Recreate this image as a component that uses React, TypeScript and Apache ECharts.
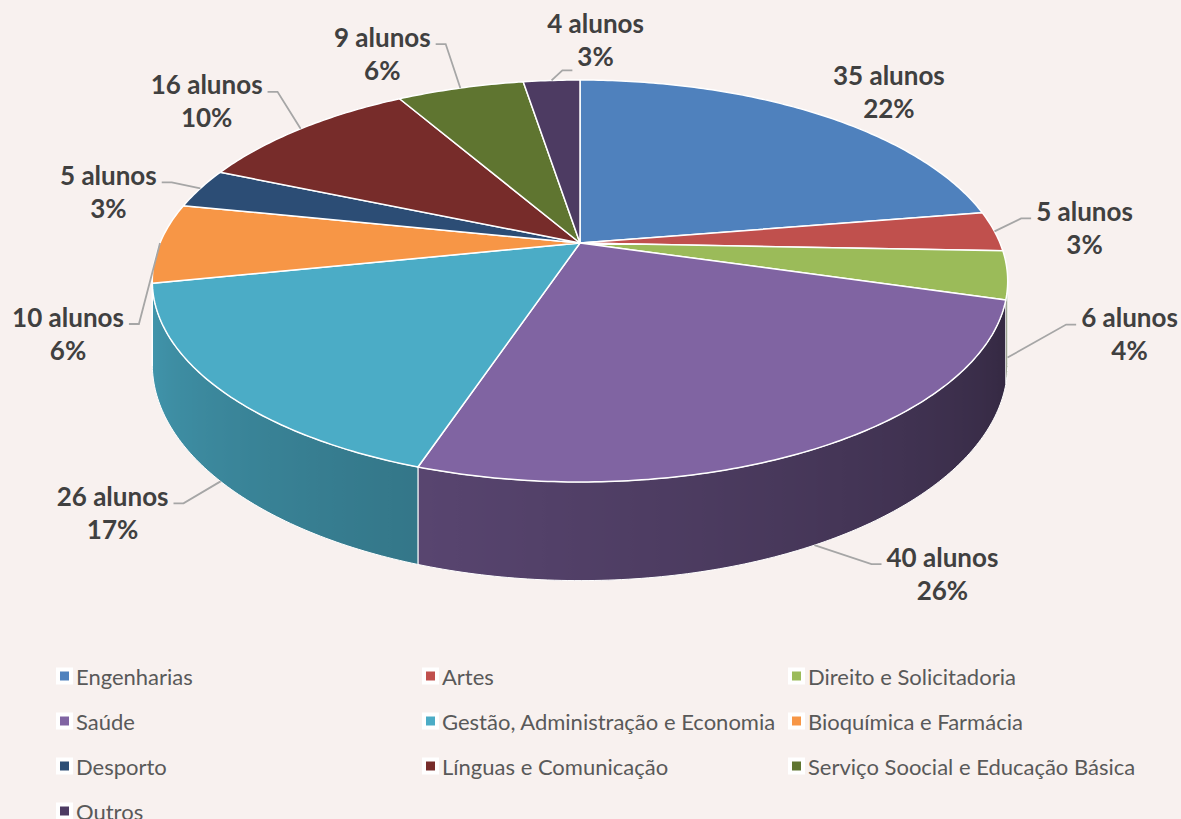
import React, { useEffect, useRef } from "react";
import * as echarts from "echarts";

// ---- data ----
const CATEGORIES = [
  "Engenharias",
  "Artes",
  "Direito e Solicitadoria",
  "Saúde",
  "Gestão, Administração e Economia",
  "Bioquímica e Farmácia",
  "Desporto",
  "Línguas e Comunicação",
  "Serviço Soocial e Educação Básica",
  "Outros",
];
const STUDENTS = [35, 5, 6, 40, 26, 10, 5, 16, 9, 4];
const UNIT = "alunos";

// ---- styles / layout ----
const COLORS = ["#4f81bd", "#c0504d", "#9bbb59", "#8064a2", "#4bacc6", "#f79646", "#2c4d75", "#772c2a", "#5f7530", "#4d3b62"];
const BG = "#f8f1ef";
const CX = 580, CY = 243, RX = 420, RY = 193.8, PERSP = 0.189, DEPTH = 80;
// label offset from its slice anchor [dx, dy, leaderMode]
const LABEL_OFFSETS = [
  [71, -22, 0], [90, -4, 1], [122, -24, 1], [128, 28, 1], [-108, 31, 1],
  [-92, 90, 1], [-92, 3, 1], [-94, -28, 1], [-78, -35, 1], [44, -41, 2],
];
const LABEL_FONT_SIZE = 26;
const LABEL_FAMILY = "Lato, 'Open Sans', sans-serif";
const LEGEND_FONT_SIZE = 22;

const measureCtx = typeof document !== "undefined" ? document.createElement("canvas").getContext("2d") : null;
function textWidth(t: string) {
  if (!measureCtx) return t.length * 12;
  measureCtx.font = `bold ${LABEL_FONT_SIZE}px Lato`;
  return measureCtx.measureText(t).width;
}

function proj(theta: number) {
  const t = (theta * Math.PI) / 180;
  const u = Math.sin(t), v = Math.cos(t);
  const w = 1 + PERSP * v;
  return { x: CX + (RX * u) / w, y: CY - (RY * v) / w, w, v };
}

function shade(hex: string, f: number) {
  const n = parseInt(hex.slice(1), 16);
  const r = Math.round(((n >> 16) & 255) * f);
  const g = Math.round(((n >> 8) & 255) * f);
  const b = Math.round((n & 255) * f);
  return `rgb(${r},${g},${b})`;
}
const wallFactor = (theta: number) => Math.max(0.3, Math.min(0.95, 0.69 + 0.0031 * (theta - 198.5)));

export default function App() {
  const ref = useRef<HTMLDivElement>(null);
  useEffect(() => {
    if (!ref.current) return;
    const chart = echarts.init(ref.current, undefined, { renderer: "svg" });
    const total = STUDENTS.reduce((a, b) => a + b, 0);
    const starts: number[] = [];
    let acc = 0;
    STUDENTS.forEach((v) => { starts.push(acc); acc += v; });
    const visA = (Math.acos(-PERSP) * 180) / Math.PI;
    const visB = 360 - visA;

    const renderItem = (params: any, api: any) => {
      const i = params.dataIndex;
      const value = api.value(0);
      const a0 = (starts[i] / total) * 360;
      const a1 = ((starts[i] + value) / total) * 360;
      const color = COLORS[i];
      const children: any[] = [];

      // side wall (visible part only)
      const w0 = Math.max(a0, visA), w1 = Math.min(a1, visB);
      if (w1 > w0) {
        const n = Math.max(2, Math.ceil((w1 - w0) / 0.75));
        const top: number[][] = [], bot: number[][] = [];
        const samples: { x: number; th: number }[] = [];
        for (let s = 0; s <= n; s++) {
          const th = w0 + ((w1 - w0) * s) / n;
          const p = proj(th);
          top.push([p.x, p.y]);
          bot.push([p.x, p.y + DEPTH / p.w]);
          samples.push({ x: p.x, th });
        }
        const xs = samples.map((s) => s.x);
        const minX = Math.min(...xs), maxX = Math.max(...xs);
        const stops = samples
          .map((s) => ({ offset: maxX > minX ? (s.x - minX) / (maxX - minX) : 0, color: shade(color, wallFactor(s.th)) }))
          .sort((p, q) => p.offset - q.offset);
        children.push({
          type: "polygon",
          z2: 1,
          shape: { points: top.concat(bot.reverse()) },
          style: {
            fill: new echarts.graphic.LinearGradient(0, 0, 1, 0, stops),
            stroke: "#ffffff",
            lineWidth: 1,
          },
        });
      }

      // top face
      const pts: number[][] = [[CX, CY]];
      const m = Math.max(2, Math.ceil((a1 - a0) / 0.75));
      for (let s = 0; s <= m; s++) {
        const p = proj(a0 + ((a1 - a0) * s) / m);
        pts.push([p.x, p.y]);
      }
      children.push({
        type: "polygon",
        z2: 10,
        shape: { points: pts },
        style: { fill: color, stroke: "#ffffff", lineWidth: 1.5, lineJoin: "round" },
      });

      // label
      const mid = (a0 + a1) / 2;
      const pm = proj(mid);
      const ax = pm.x;
      const ay = pm.v < -1e-6 ? pm.y + DEPTH / pm.w : pm.y;
      const [dx, dy, mode] = LABEL_OFFSETS[i];
      const lx = ax + dx, ly = ay + dy;
      const line1 = `${value} ${UNIT}`;
      const line2 = `${Math.round((value / total) * 100)}%`;
      const textStyle = {
        fill: "#404040",
        fontSize: LABEL_FONT_SIZE,
        fontWeight: "bold",
        fontFamily: LABEL_FAMILY,
        align: "center",
        verticalAlign: "middle",
      };
      children.push({ type: "text", z2: 30, x: lx, y: ly - 16.5, style: { ...textStyle, text: line1 } });
      children.push({ type: "text", z2: 30, x: lx, y: ly + 16.5, style: { ...textStyle, text: line2 } });
      if (mode) {
        const sgn = dx >= 0 ? 1 : -1;
        let ex: number, ey: number;
        if (mode === 1) {
          ex = lx - sgn * (textWidth(line1) / 2 + 5);
          ey = ly - 9;
        } else {
          ex = lx - sgn * (textWidth(line2) / 2 + 5);
          ey = ly + 31;
        }
        const elx = ex - sgn * 10;
        children.push({
          type: "polyline",
          z2: 20,
          shape: { points: [[ax, ay], [elx, ey], [ex, ey]] },
          style: { stroke: "#a6a6a6", lineWidth: 1.8, fill: null },
        });
      }
      return { type: "group", children };
    };

    const legendBase = {
      orient: "vertical",
      padding: 0,
      icon: "rect",
      itemWidth: 13,
      itemHeight: 13,
      itemGap: 21,
      height: 140,
      itemStyle: { borderColor: "#ffffff", borderWidth: 4 },
      textStyle: { color: "#595959", fontSize: LEGEND_FONT_SIZE, fontFamily: "Lato, 'Open Sans', sans-serif", lineHeight: 24 },
      selectedMode: false,
    };
    const colLefts = [56, 422, 788];
    const ROW_TOP = 664, ROW_STEP = 45;
    const legends: any[] = colLefts.map((left, c) => ({
      ...legendBase,
      left,
      top: ROW_TOP,
      data: CATEGORIES.filter((_, i) => i % 3 === c && i < 9),
    }));
    legends.push({
      ...legendBase,
      left: colLefts[0],
      top: ROW_TOP + 3 * ROW_STEP,
      data: CATEGORIES.filter((_, i) => i >= 9),
    });

    chart.setOption({
      animation: false,
      backgroundColor: BG,
      legend: legends,
      series: [
        {
          type: "custom",
          name: "Alunos",
          coordinateSystem: "none",
          silent: true,
          data: STUDENTS.map((v, i) => ({ name: CATEGORIES[i], value: v })),
          renderItem,
        },
        ...CATEGORIES.map((name, i) => ({
          type: "custom",
          name,
          coordinateSystem: "none",
          itemStyle: { color: COLORS[i] },
          data: [],
          renderItem: () => null,
        })),
      ],
    });
    return () => chart.dispose();
  }, []);
  return (
    <div
      ref={ref}
      style={{ position: "absolute", left: 0, top: 0, width: 1181, height: 819, background: BG }}
    />
  );
}
